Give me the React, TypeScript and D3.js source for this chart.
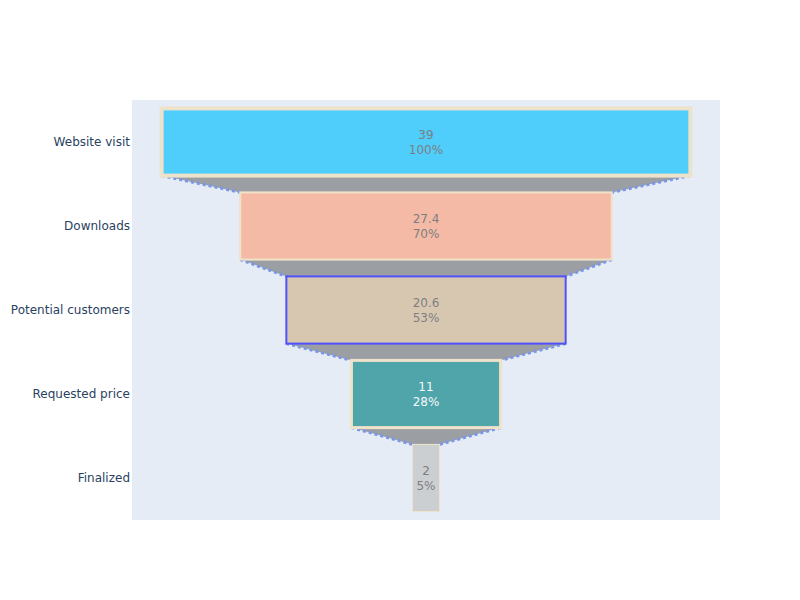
import { useEffect, useRef } from "react";
import * as d3 from "d3";

const stages = ["Website visit", "Downloads", "Potential customers", "Requested price", "Finalized"];
const values = [39, 27.4, 20.6, 11, 2];
const barColors = ["deepskyblue", "lightsalmon", "tan", "teal", "silver"];
const lineColors = ["wheat", "wheat", "blue", "wheat", "wheat"];
const lineWidths = [4, 2, 2, 3, 1];

const width = 800;
const height = 600;
const margin = { top: 100, right: 80, bottom: 80, left: 132 };

export default function App() {
  const svgRef = useRef<SVGSVGElement>(null);

  useEffect(() => {
    if (!svgRef.current) return;
    const svg = d3.select(svgRef.current);
    svg.selectAll("*").remove();

    const innerWidth = width - margin.left - margin.right;
    const innerHeight = height - margin.top - margin.bottom;

    const maxHalf = (d3.max(values) || 0) / 2;
    const x = d3
      .scaleLinear()
      .domain([-maxHalf * 1.112, maxHalf * 1.112])
      .range([0, innerWidth]);

    const y = d3
      .scaleBand()
      .domain(stages)
      .range([0, innerHeight])
      .paddingInner(0.2)
      .paddingOuter(0.1);

    const bw = y.bandwidth();
    const first = values[0];

    svg.append("rect").attr("width", width).attr("height", height).attr("fill", "white");

    const g = svg
      .append("g")
      .attr("transform", `translate(${margin.left},${margin.top})`);

    g.append("rect")
      .attr("width", innerWidth)
      .attr("height", innerHeight)
      .attr("fill", "#e5ecf6");

    const trace = g.append("g").attr("opacity", 0.65);

    // connectors
    const pairs = d3.pairs(d3.range(values.length));
    const conn = trace.append("g");
    pairs.forEach(([a, b]) => {
      const y0 = (y(stages[a]) || 0) + bw;
      const y1 = y(stages[b]) || 0;
      const xa0 = x(-values[a] / 2);
      const xa1 = x(values[a] / 2);
      const xb0 = x(-values[b] / 2);
      const xb1 = x(values[b] / 2);
      conn
        .append("path")
        .attr("d", `M${xa0},${y0}L${xa1},${y0}L${xb1},${y1}L${xb0},${y1}Z`)
        .attr("fill", "rgba(68,68,68,0.7)");
      [
        [xa0, xb0],
        [xa1, xb1],
      ].forEach(([p, q]) => {
        conn
          .append("line")
          .attr("x1", p)
          .attr("y1", y0)
          .attr("x2", q)
          .attr("y2", y1)
          .attr("stroke", "royalblue")
          .attr("stroke-width", 3)
          .attr("stroke-dasharray", "3,3");
      });
    });

    // bars
    trace
      .append("g")
      .selectAll("rect")
      .data(values)
      .join("rect")
      .attr("x", (d) => x(-d / 2))
      .attr("y", (d, i) => y(stages[i]) || 0)
      .attr("width", (d) => x(d / 2) - x(-d / 2))
      .attr("height", bw)
      .attr("fill", (d, i) => barColors[i])
      .attr("stroke", (d, i) => lineColors[i])
      .attr("stroke-width", (d, i) => lineWidths[i]);

    // bar text
    const labels = trace
      .append("g")
      .attr("font-family", "DejaVu Sans, Verdana, sans-serif")
      .attr("font-size", 12)
      .attr("text-anchor", "middle")
      .selectAll("text")
      .data(values)
      .join("text")
      .attr("x", (d) => x(0))
      .attr("fill", (d, i) => (barColors[i] === "teal" ? "white" : "#444"));

    labels.each(function (d, i) {
      const cy = (y(stages[i]) || 0) + bw / 2;
      const t = d3.select(this);
      t.append("tspan")
        .attr("x", x(0))
        .attr("y", cy - 3.5)
        .text(String(d));
      t.append("tspan")
        .attr("x", x(0))
        .attr("y", cy + 12)
        .text(`${Math.round((d / first) * 100)}%`);
    });

    // y axis labels
    g.append("g")
      .attr("font-family", "DejaVu Sans, Verdana, sans-serif")
      .attr("font-size", 12)
      .attr("fill", "#2a3f5f")
      .attr("text-anchor", "end")
      .selectAll("text")
      .data(stages)
      .join("text")
      .attr("x", -2)
      .attr("y", (d) => (y(d) || 0) + bw / 2)
      .attr("dy", "0.35em")
      .text((d) => d);
  }, []);

  return (
    <svg
      ref={svgRef}
      width={width}
      height={height}
      style={{ position: "absolute", left: 0, top: 0 }}
    />
  );
}
